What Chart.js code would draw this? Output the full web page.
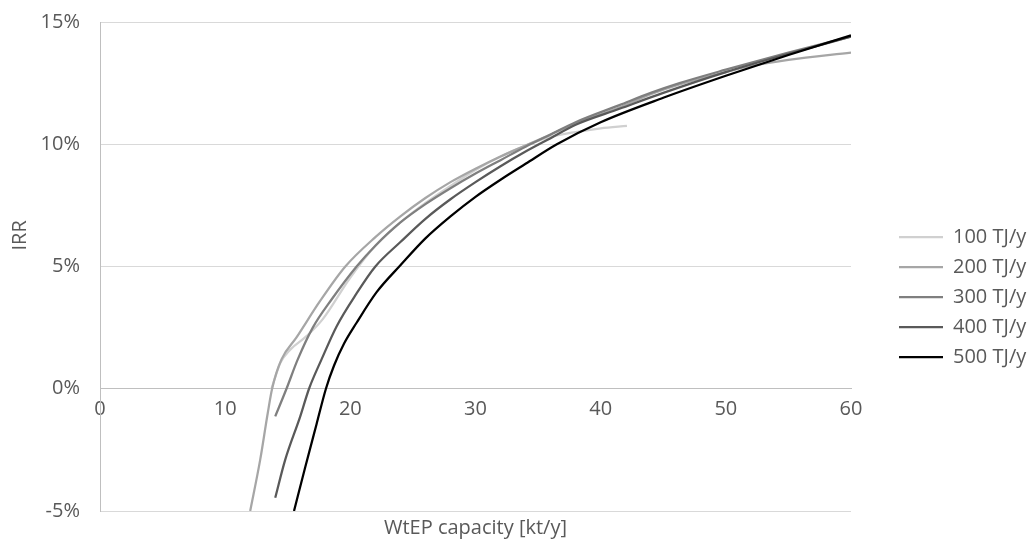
<!DOCTYPE html>
<html>
<head>
<meta charset="utf-8">
<script src="https://cdn.jsdelivr.net/npm/chart.js@4"></script>
<style>
  html, body { margin: 0; padding: 0; background: #fff; }
  #wrap { width: 1032px; height: 541px; }
</style>
</head>
<body>
<div id="wrap"><canvas id="irrChart"></canvas></div>
<script>
// WtEP capacity [kt/y] vs IRR [%], one curve per heat demand
const seriesNames = ['100 TJ/y', '200 TJ/y', '300 TJ/y', '400 TJ/y', '500 TJ/y'];
const seriesColors = ['#d0d0d0', '#a6a6a6', '#7f7f7f', '#595959', '#000000'];

const cap100 = [13.7, 14.4, 15.2, 16.5, 17.8, 20, 22, 24, 26, 28, 30, 32, 34, 36, 38, 40, 42.1];
const irr100 = [0, 1.05, 1.6, 2.15, 2.85, 4.55, 5.85, 6.8, 7.6, 8.3, 8.95, 9.5, 9.95, 10.3, 10.5, 10.65, 10.75];

const cap200 = [12.0, 12.8, 13.4, 13.75, 14.5, 15.7, 17.6, 19.6, 22, 24, 26, 28, 30, 32, 34, 36, 38, 41.5, 44, 46.3, 50, 52, 55, 60];
const irr200 = [-5, -2.9, -1.0, 0, 1.2, 2.1, 3.6, 5.0, 6.2, 7.05, 7.8, 8.45, 9.0, 9.5, 9.95, 10.4, 10.85, 11.5, 12.05, 12.45, 12.95, 13.2, 13.45, 13.75];

const cap300 = [14.0, 14.9, 15.8, 17.0, 18.5, 20.5, 22, 24, 26, 28, 30, 32, 34, 36, 38, 41.5, 44, 46.3, 50, 55, 60];
const irr300 = [-1.13, 0, 1.2, 2.5, 3.65, 5.0, 5.85, 6.8, 7.55, 8.2, 8.8, 9.35, 9.9, 10.4, 10.9, 11.6, 12.1, 12.5, 13.05, 13.75, 14.4];

const cap400 = [14.0, 14.8, 16.0, 16.7, 17.7, 18.9, 20.5, 22, 24, 26, 28, 30, 32, 34, 36, 38, 41.5, 45, 50, 55, 60];
const irr400 = [-4.46, -2.9, -1.13, 0, 1.2, 2.55, 3.9, 5.0, 6.0, 6.95, 7.75, 8.45, 9.1, 9.7, 10.25, 10.8, 11.45, 12.1, 12.95, 13.7, 14.4];

const cap500 = [15.5, 16.4, 17.3, 18.05, 18.7, 19.5, 20.5, 22.1, 24, 26, 28, 30, 32, 34, 36.5, 40, 45, 50, 55, 60];
const irr500 = [-5, -3.2, -1.45, 0, 0.95, 1.85, 2.7, 3.95, 5.05, 6.15, 7.05, 7.85, 8.55, 9.2, 10.0, 10.9, 11.9, 12.8, 13.65, 14.45];

const xTicks = [0, 10, 20, 30, 40, 50, 60];
const yTicks = [-5, 0, 5, 10, 15];

const caps = [cap100, cap200, cap300, cap400, cap500];
const irrs = [irr100, irr200, irr300, irr400, irr500];

function toPoints(xs, ys) {
    return xs.map((x, i) => ({ x: x, y: ys[i] }));
}

// excel draws the last series on top, chart.js draws the first one on top
const datasets = seriesNames.map((name, i) => ({
    label: name,
    data: toPoints(caps[i], irrs[i]),
    borderColor: seriesColors[i],
    backgroundColor: seriesColors[i],
    borderWidth: 2.25,
    pointRadius: 0,
    showLine: true,
    fill: false,
    cubicInterpolationMode: 'monotone'
})).reverse();

const textColor = '#595959';
const baseFont = { family: 'Open Sans', size: 20 };

// keep the legend box at a fixed width so the plot ends where the original does
const legendWidthFix = {
    id: 'legendWidthFix',
    beforeLayout(chart) {
        const lg = chart.legend;
        if (lg && !lg._widthFixed) {
            const origFit = lg.fit.bind(lg);
            lg.fit = function () { origFit(); this.width = 143; };
            lg._widthFixed = true;
        }
    }
};

new Chart(document.getElementById('irrChart').getContext('2d'), {
    type: 'scatter',
    data: { datasets: datasets },
    plugins: [legendWidthFix],
    options: {
        responsive: true,
        maintainAspectRatio: false,
        animation: false,
        layout: { padding: { top: 22, right: 0, bottom: 0, left: 0 } },
        plugins: {
            tooltip: { enabled: false },
            legend: {
                position: 'right',
                reverse: true,
                title: { display: true, text: '', font: { size: 12 }, padding: { top: 8, bottom: 9 } },
                labels: {
                    usePointStyle: true,
                    pointStyle: 'line',
                    pointStyleWidth: 44,
                    padding: 10,
                    color: textColor,
                    font: baseFont
                }
            }
        },
        scales: {
            x: {
                type: 'linear',
                position: { y: 0 },
                min: 0,
                max: 60,
                afterBuildTicks: (axis) => { axis.ticks = xTicks.map(v => ({ value: v })); },
                grid: { display: false, drawTicks: false },
                border: { display: true, color: '#bfbfbf', width: 1 },
                ticks: { color: textColor, font: baseFont, padding: 9, maxRotation: 0 }
            },
            x2: {
                type: 'linear',
                position: 'bottom',
                min: 0,
                max: 60,
                grid: { display: false, drawTicks: false },
                border: { display: false },
                ticks: { display: false },
                title: {
                    display: true,
                    text: 'WtEP capacity [kt/y]',
                    color: textColor,
                    font: baseFont,
                    padding: { top: 0, bottom: 1 }
                },
                afterFit: (axis) => { axis.height = 30; }
            },
            y: {
                type: 'linear',
                min: -5,
                max: 15,
                afterBuildTicks: (axis) => { axis.ticks = yTicks.map(v => ({ value: v })); },
                grid: {
                    color: (ctx) => ctx.tick && ctx.tick.value === 0 ? '#bfbfbf' : '#d9d9d9',
                    drawTicks: false
                },
                border: { display: true, color: '#bfbfbf', width: 1 },
                ticks: {
                    color: textColor,
                    font: baseFont,
                    padding: 20,
                    callback: (v) => v + '%'
                },
                title: {
                    display: true,
                    text: '            IRR',
                    color: textColor,
                    font: baseFont,
                    padding: { top: 8, bottom: 0 }
                },
                afterFit: (axis) => {
                    axis.width = 100;
                    axis.paddingTop = 0;
                    axis.paddingBottom = 0;
                }
            },
            y2: {
                type: 'linear',
                position: 'right',
                grid: { display: false, drawTicks: false },
                border: { display: false },
                ticks: { display: false },
                afterFit: (axis) => { axis.width = 38; }
            }
        }
    }
});
</script>
</body>
</html>
